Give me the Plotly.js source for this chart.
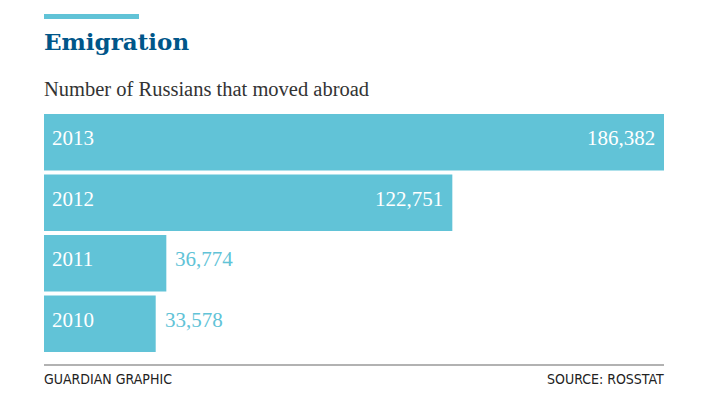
<!DOCTYPE html>
<html>
<head>
<meta charset="utf-8">
<script src="https://cdn.plot.ly/plotly-3.0.1.min.js"></script>
<style>html,body{margin:0;padding:0;background:#fff;}#chart{width:712px;height:410px;}</style>
</head>
<body>
<div id="chart"></div>
<script>
const years = ["2013", "2012", "2011", "2010"];
const emigrants = [186382, 122751, 36774, 33578];
const titleText = "Emigration";
const subtitleText = "Number of Russians that moved abroad";
const creditText = "GUARDIAN GRAPHIC";
const sourceText = "SOURCE: ROSSTAT";

const W = 712, H = 410;
const M = {l: 44, r: 48, t: 112, b: 56};
const plotH = H - M.t - M.b;
const barColor = "#61c3d7";
const serif = "Liberation Serif, serif";
const maxVal = Math.max(...emigrants);
const py = px => (H - M.b - px) / plotH; // pixel-from-top -> paper y
const order = years.slice().reverse();

const fmt = v => v.toLocaleString("en-US");

const annotations = [];
years.forEach((yr, i) => {
  const yi = order.indexOf(yr);
  annotations.push({
    xref: "x", yref: "y", x: 0, y: yi, text: yr, showarrow: false,
    xanchor: "left", yanchor: "middle", xshift: 6, yshift: 4,
    font: {family: serif, size: 21, color: "#ffffff"}
  });
  const inside = emigrants[i] / maxVal > 0.5;
  annotations.push({
    xref: "x", yref: "y", x: emigrants[i], y: yi, text: fmt(emigrants[i]), showarrow: false,
    xanchor: inside ? "right" : "left", yanchor: "middle",
    xshift: inside ? -7 : 7, yshift: 4,
    font: {family: serif, size: 21, color: inside ? "#ffffff" : barColor}
  });
});
annotations.push({
  xref: "paper", yref: "paper", x: 0, y: py(89), text: subtitleText, showarrow: false,
  xanchor: "left", yanchor: "middle", xshift: -2, font: {family: serif, size: 20.5, color: "#333333"}
});
annotations.push({
  xref: "paper", yref: "paper", x: 0, y: py(379), text: creditText, showarrow: false,
  xanchor: "left", yanchor: "middle", xshift: -2, font: {family: "DejaVu Sans Condensed, sans-serif", size: 14, color: "#222222"}
});
annotations.push({
  xref: "paper", yref: "paper", x: 1, y: py(379), text: sourceText, showarrow: false,
  xanchor: "right", yanchor: "middle", xshift: 2, font: {family: "DejaVu Sans Condensed, sans-serif", size: 14, color: "#222222"}
});

const data = [{
  type: "bar", orientation: "h",
  y: years, x: emigrants,
  marker: {color: barColor, line: {width: 0}},
  hoverinfo: "none"
}];

const layout = {
  width: W, height: H,
  margin: M,
  paper_bgcolor: "#ffffff", plot_bgcolor: "#ffffff",
  showlegend: false,
  bargap: 0.065,
  title: {
    text: "<b>" + titleText + "</b>",
    xref: "paper", x: 0, xanchor: "left",
    yref: "container", y: 1 - 42 / H, yanchor: "middle",
    font: {family: "DejaVu Serif, serif", size: 23, color: "#005689"}
  },
  xaxis: {range: [0, maxVal], visible: false, fixedrange: true},
  yaxis: {type: "category", categoryorder: "array", categoryarray: order,
          range: [-0.5, years.length - 0.5], visible: false, fixedrange: true},
  annotations: annotations,
  shapes: [
    {type: "line", xref: "paper", yref: "paper", x0: 0, x1: 95 / (W - M.l - M.r),
     y0: py(16.5), y1: py(16.5), line: {color: barColor, width: 5}},
    {type: "line", xref: "paper", yref: "paper", x0: 0, x1: 1,
     y0: py(365), y1: py(365), line: {color: "#999999", width: 1.5}}
  ]
};

Plotly.newPlot("chart", data, layout, {staticPlot: true, displayModeBar: false});
</script>
</body>
</html>
